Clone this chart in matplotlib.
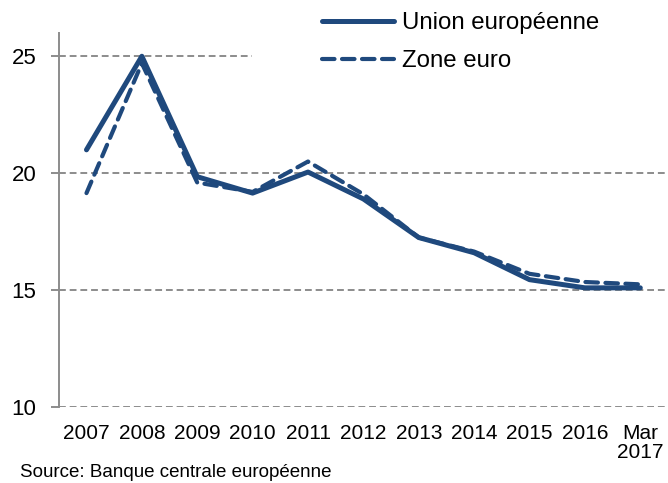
import matplotlib
matplotlib.use('Agg')
import matplotlib.pyplot as plt

plt.rcParams['font.family'] = ['Liberation Sans', 'DejaVu Sans']

labels = ['2007', '2008', '2009', '2010', '2011', '2012', '2013', '2014', '2015', '2016', 'Mar\n2017']
ue = [21.0, 25.0, 19.85, 19.15, 20.05, 18.9, 17.25, 16.6, 15.45, 15.1, 15.1]
zone_euro = [19.15, 24.7, 19.6, 19.2, 20.5, 19.1, 17.25, 16.65, 15.7, 15.35, 15.25]

blue = '#1f497d'
grey = '#8c8c8c'

fig = plt.figure(figsize=(6.68, 4.83), dpi=100)
ax = fig.add_axes([0.088, 0.157, 0.912, 0.775])

xs = range(len(labels))
ax.plot(xs, ue, color=blue, lw=3.6, solid_capstyle='round', label='Union européenne', zorder=3)
ax.plot(xs, zone_euro, color=blue, lw=3.0, ls=(0, (3, 1.8)), dash_capstyle='round',
        label='Zone euro', zorder=3)

# horizontal dashed gridlines (top one stops where the legend sits)
for y in [10, 15, 20]:
    ax.axhline(y, color=grey, lw=1.4, ls=(0, (3.5, 2)), zorder=1)
ax.axhline(25, xmax=0.317, color=grey, lw=1.4, ls=(0, (3.5, 2)), zorder=1)

ax.set_xlim(-0.5, len(labels) - 0.5)
ax.set_ylim(10, 26)
ax.set_yticks([10, 15, 20, 25])
ax.set_xticks(list(xs), labels)

for s in ['top', 'right', 'bottom']:
    ax.spines[s].set_visible(False)
ax.spines['left'].set_color(grey)
ax.spines['left'].set_linewidth(1.4)
ax.tick_params(axis='y', length=6, width=1.4, color=grey, pad=10, labelsize=16)
ax.tick_params(axis='x', length=0, pad=12, labelsize=15)
ax.get_xticklabels()[-1].set_linespacing(1.0)

fig.legend(loc='upper left', bbox_to_anchor=(0.4495, 1.02), frameon=False,
           fontsize=17.3, handlelength=3.0, handletextpad=0.33, labelspacing=0.68)

fig.text(0.03, 0.012, 'Source: Banque centrale européenne', fontsize=13.5, va='baseline')

plt.savefig('out.png', dpi=100)
plt.close(fig)
